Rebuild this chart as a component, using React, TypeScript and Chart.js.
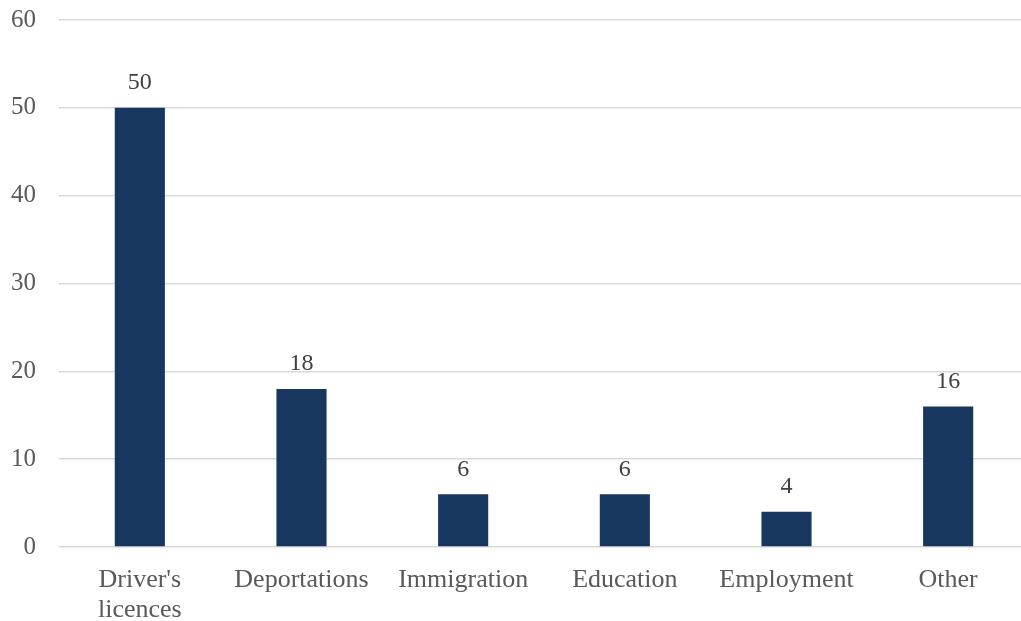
import React, { useEffect, useRef } from "react";
import { Chart, registerables } from "chart.js";

Chart.register(...registerables);

const categories: (string | string[])[] = [["Driver's", "licences"], "Deportations", "Immigration", "Education", "Employment", "Other"];
const values: number[] = [50, 18, 6, 6, 4, 16];
const yTicks: number[] = [0, 10, 20, 30, 40, 50, 60];

const FONT = "'Liberation Serif', 'Times New Roman', serif";

const dataLabels = {
  id: "dataLabels",
  afterDatasetsDraw(chart: any) {
    const ctx = chart.ctx;
    const meta = chart.getDatasetMeta(0);
    ctx.save();
    ctx.font = `24px ${FONT}`;
    ctx.fillStyle = "#404040";
    ctx.textAlign = "center";
    ctx.textBaseline = "middle";
    meta.data.forEach((bar: any, i: number) => {
      ctx.fillText(String(values[i]), bar.x, bar.y - 25);
    });
    ctx.restore();
  },
};

export default function App() {
  const ref = useRef<HTMLCanvasElement>(null);
  useEffect(() => {
    document.body.style.margin = "0";
    document.body.style.overflow = "hidden";
    const chart = new Chart(ref.current!, {
      type: "bar",
      data: {
        labels: categories,
        datasets: [
          {
            data: values,
            backgroundColor: "#17375E",
            barPercentage: 0.31,
            categoryPercentage: 1,
          },
        ],
      },
      options: {
        animation: false,
        responsive: false,
        layout: { padding: { top: 20, right: 1, left: 0, bottom: 0 } },
        plugins: { legend: { display: false }, tooltip: { enabled: false } },
        scales: {
          x: {
            grid: { display: false },
            border: { display: false },
            ticks: { color: "#595959", font: { family: FONT, size: 26, lineHeight: 1.15 }, padding: 10, maxRotation: 0, autoSkip: false },
            afterFit(scale: any) {
              scale.height = 74;
              scale.paddingLeft = 0;
              scale.paddingRight = 0;
            },
          },
          y: {
            min: 0,
            max: 60,
            afterBuildTicks(scale: any) {
              scale.ticks = yTicks.map((v) => ({ value: v }));
            },
            grid: { color: "#D9D9D9", lineWidth: 1.5, drawTicks: false },
            border: { display: false },
            ticks: { color: "#595959", font: { family: FONT, size: 25 }, padding: 23 },
            afterFit(scale: any) {
              scale.width = 59;
              scale.paddingTop = 0;
              scale.paddingBottom = 0;
            },
          },
        },
      },
      plugins: [dataLabels],
    });
    return () => chart.destroy();
  }, []);
  return (
    <div style={{ position: "absolute", left: 0, top: 0, width: 1021, height: 621, overflow: "hidden", background: "#fff" }}>
      <canvas ref={ref} width={1030} height={621} style={{ width: 1030, height: 621, display: "block" }} />
    </div>
  );
}
